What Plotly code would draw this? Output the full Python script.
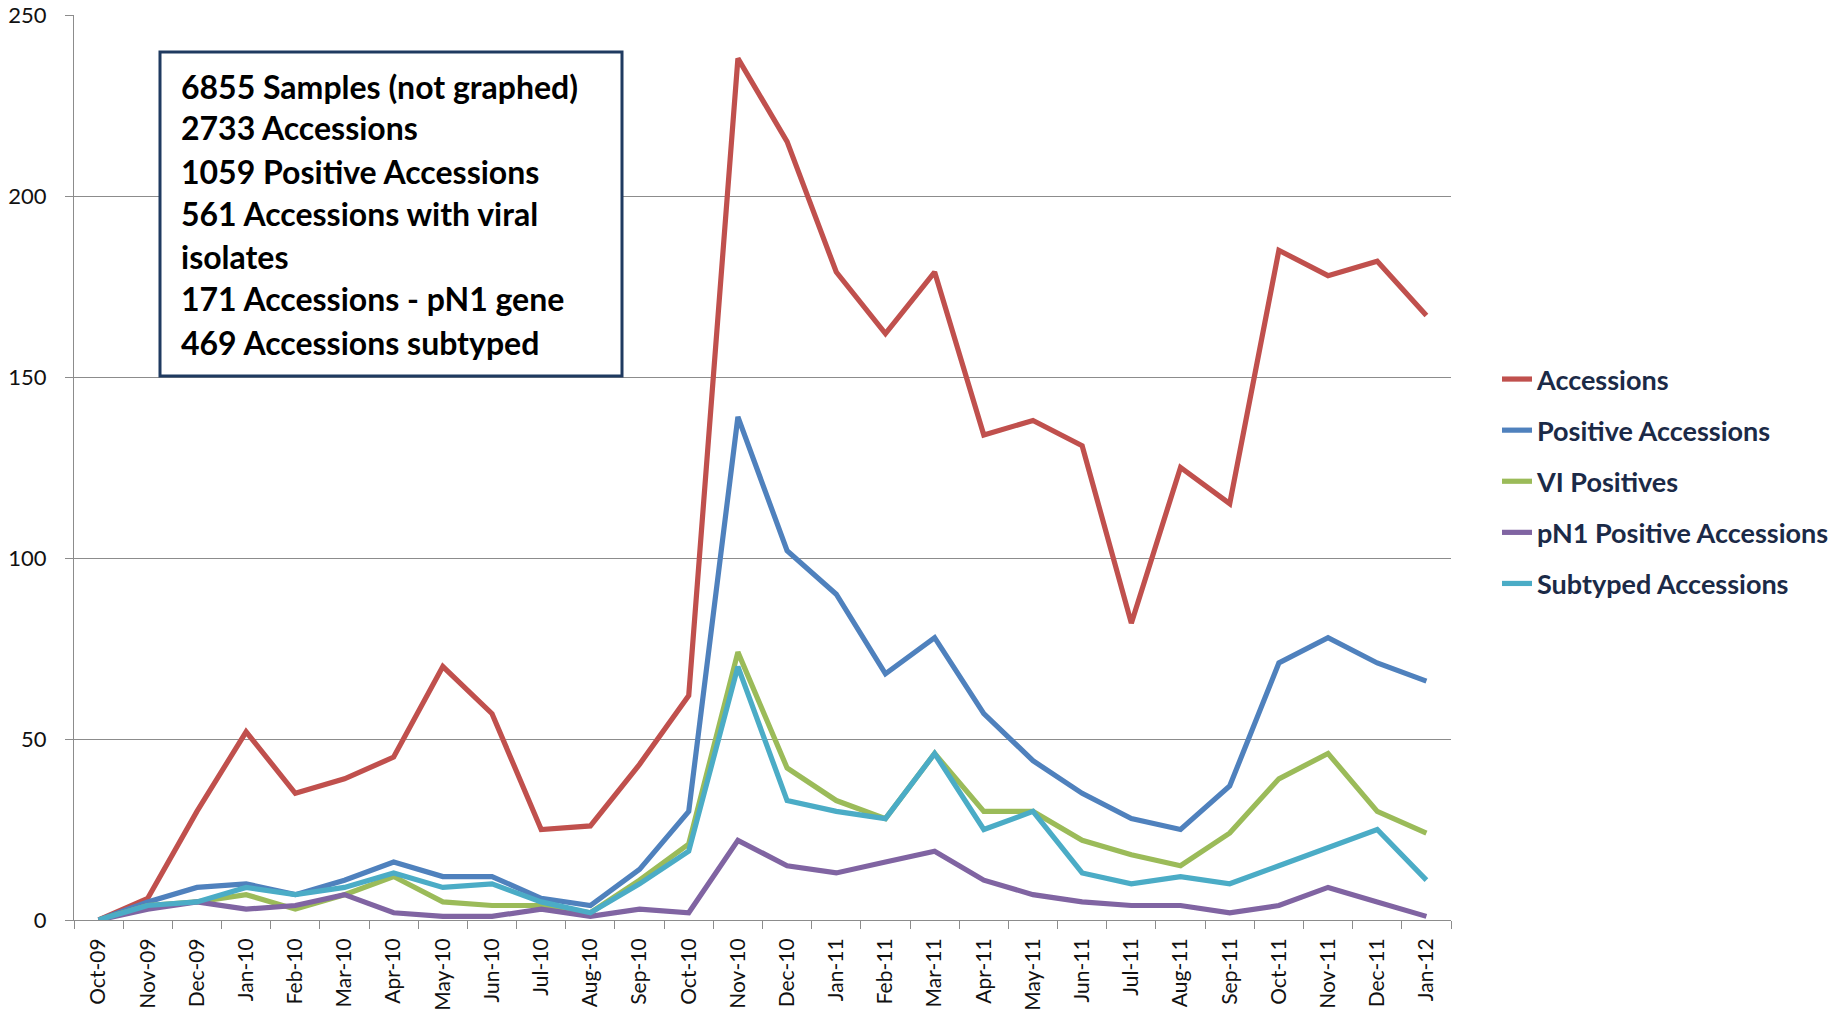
import plotly.graph_objects as go

months = ["Oct-09", "Nov-09", "Dec-09", "Jan-10", "Feb-10", "Mar-10", "Apr-10", "May-10",
          "Jun-10", "Jul-10", "Aug-10", "Sep-10", "Oct-10", "Nov-10", "Dec-10", "Jan-11",
          "Feb-11", "Mar-11", "Apr-11", "May-11", "Jun-11", "Jul-11", "Aug-11", "Sep-11",
          "Oct-11", "Nov-11", "Dec-11", "Jan-12"]

accessions = [0, 6, 30, 52, 35, 39, 45, 70, 57, 25, 26, 43, 62, 238, 215, 179,
              162, 179, 134, 138, 131, 82, 125, 115, 185, 178, 182, 167]
positive_accessions = [0, 5, 9, 10, 7, 11, 16, 12, 12, 6, 4, 14, 30, 139, 102, 90,
                       68, 78, 57, 44, 35, 28, 25, 37, 71, 78, 71, 66]
vi_positives = [0, 4, 5, 7, 3, 7, 12, 5, 4, 4, 2, 11, 21, 74, 42, 33,
                28, 46, 30, 30, 22, 18, 15, 24, 39, 46, 30, 24]
pn1_positive = [0, 3, 5, 3, 4, 7, 2, 1, 1, 3, 1, 3, 2, 22, 15, 13,
                16, 19, 11, 7, 5, 4, 4, 2, 4, 9, 5, 1]
subtyped = [0, 4, 5, 9, 7, 9, 13, 9, 10, 5, 2, 10, 19, 70, 33, 30,
            28, 46, 25, 30, 13, 10, 12, 10, 15, 20, 25, 11]

series_names = ["Accessions", "Positive Accessions", "VI Positives",
                "pN1 Positive Accessions", "Subtyped Accessions"]
series_values = [accessions, positive_accessions, vi_positives, pn1_positive, subtyped]
series_colors = ["#C0504D", "#4F81BD", "#9BBB59", "#8064A2", "#4BACC6"]

box_lines = ["6855 Samples (not graphed)", "2733 Accessions", "1059 Positive Accessions",
             "561 Accessions with viral", "isolates", "171 Accessions - pN1 gene",
             "469 Accessions subtyped"]

FONT = "Lato"
GRID = "#8C8C8C"

fig = go.Figure()
for name, vals, col in zip(series_names, series_values, series_colors):
    fig.add_trace(go.Scatter(x=months, y=vals, mode="lines", name=name,
                             legendgroup=name,
                             line=dict(color=col, width=5.2)))

# plot area geometry (page pixels)
L, R, T, B = 74, 1451, 15, 920
W, H = 1837, 1012

def px_x(p):
    return (p - L) / (R - L)

def px_y(p):
    return (B - p) / (B - T)

# text box
fig.add_shape(type="rect", xref="paper", yref="paper",
              x0=px_x(160), x1=px_x(622), y0=px_y(376), y1=px_y(52),
              line=dict(color="#1F3A60", width=3), fillcolor="white", layer="above")
line_y = [86, 128, 171, 214, 256, 299, 342]
for txt, yy in zip(box_lines, line_y):
    fig.add_annotation(text=txt, xref="paper", yref="paper", x=px_x(179), y=px_y(yy),
                       xanchor="left", yanchor="middle", showarrow=False,
                       font=dict(family=FONT, size=32, color="#000000", weight="bold"))

fig.update_layout(
    width=W, height=H,
    margin=dict(l=L, r=W - R, t=T, b=H - B, autoexpand=False),
    paper_bgcolor="white", plot_bgcolor="white",
    showlegend=True,
    legend=dict(x=px_x(1497), y=px_y(355), xanchor="left", yanchor="top",
                font=dict(family=FONT, size=27, color="#1B2A47", weight="bold"),
                tracegroupgap=13, bgcolor="rgba(0,0,0,0)", itemwidth=30),
    xaxis=dict(type="category", categoryorder="array", categoryarray=months,
               tickangle=-90, ticks="outside", ticklen=8, tickcolor=GRID,
               tickson="boundaries", showline=True, linecolor=GRID, linewidth=1,
               showgrid=False, tickfont=dict(family=FONT, size=21, color="#111111"),
               ticklabelstandoff=9,
               range=[-0.5, len(months) - 0.5]),
    yaxis=dict(range=[0, 250], dtick=50, ticks="outside", ticklen=8, tickcolor=GRID,
               showline=True, linecolor=GRID, linewidth=1, showgrid=True,
               gridcolor=GRID, gridwidth=1, zeroline=False,
               tickfont=dict(family=FONT, size=22, color="#111111"),
               ticklabelstandoff=14),
)

fig.write_html("out.html", config={"displayModeBar": False},
               post_script="document.body.style.margin='0px';document.body.style.overflow='hidden';")
